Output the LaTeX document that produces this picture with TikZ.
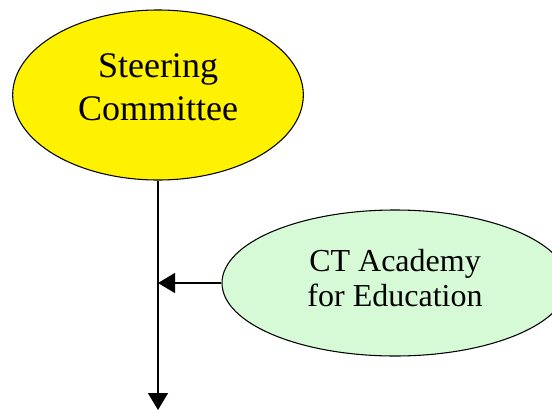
\documentclass[tikz,border=0pt]{standalone}
\usepackage{fontspec}
\setmainfont{Liberation Serif}
\usetikzlibrary{arrows.meta, shapes.geometric}
\definecolor{palegreen}{RGB}{214,250,214}
\tikzstyle{board} = [ellipse, draw=black, line width=0.8pt, fill=yellow, minimum width=218pt, minimum height=127.5pt, align=center, inner sep=0pt, text depth=12pt, font=\fontsize{27}{32}\selectfont]
\tikzstyle{partner} = [ellipse, draw=black, line width=0.8pt, fill=palegreen, minimum width=259.5pt, minimum height=109.5pt, align=center, inner sep=0pt, text depth=8pt, font=\fontsize{24}{26}\selectfont]
\tikzstyle{arrow} = [line width=1pt, -{Triangle[length=12.75pt, width=15pt]}]

\begin{document}
\begin{tikzpicture}[x=0.75pt, y=-0.75pt]
\clip (0,0) rectangle (552,411);

% Nodes
\node (steering) [board] at (158,95) {Steering\\Committee};
\node (academy) [partner] at (395,283) {CT Academy\\for Education};
\coordinate (join) at (158,283);
\coordinate (bottom) at (158,410);

% Arrows
\draw [arrow] (steering) -- (bottom);
\draw [arrow] (academy) -- (join);

\end{tikzpicture}
\end{document}
